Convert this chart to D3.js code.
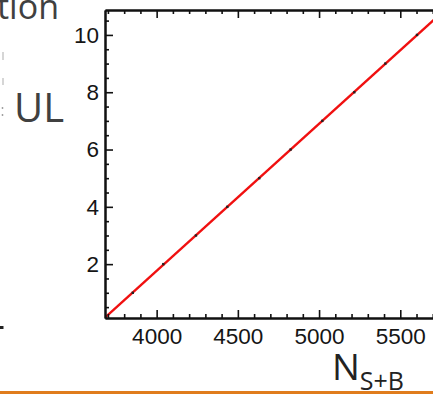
<!DOCTYPE html>
<html>
<head>
<meta charset="utf-8">
<script src="https://cdn.jsdelivr.net/npm/d3@7"></script>
<style>
  html, body { margin: 0; padding: 0; background: #fff; }
  svg { display: block; }
</style>
</head>
<body>
<svg id="chart" width="433" height="394"></svg>
<script>
// Upper limit (UL) versus observed signal+background counts N_S+B
const ulValues  = [1, 2, 3, 4, 5, 6, 7, 8, 9, 10];
const nsbValues = [3853, 4041, 4242, 4435, 4632, 4825, 5020, 5217, 5408, 5603];

const xMajorTicks = [4000, 4500, 5000, 5500];
const yMajorTicks = [2, 4, 6, 8, 10];

const xDomain = [3682, 5800];
const yDomain = [0.12, 10.87];

const W = 433, H = 394;
const plot = { left: 105, top: 10, bottom: 318, right: 449 };

const svg = d3.select("#chart");
svg.append("rect").attr("width", W).attr("height", H).attr("fill", "#fff");

const x = d3.scaleLinear().domain(xDomain).range([plot.left, plot.right]);
const y = d3.scaleLinear().domain(yDomain).range([plot.bottom, plot.top]);

// slide fragments around the figure
svg.append("text")
  .attr("x", 59).attr("y", 19)
  .attr("text-anchor", "end")
  .attr("font-family", "'Open Sans', sans-serif")
  .attr("font-size", 34)
  .attr("fill", "#404040")
  .text("tion");

svg.append("text")
  .attr("x", 14).attr("y", 122)
  .attr("font-family", "'Open Sans', sans-serif")
  .attr("font-size", 40)
  .attr("fill", "#404040")
  .text("UL");

const marks = svg.append("g").attr("stroke", "#bbb").attr("stroke-width", 1.2);
marks.append("line").attr("x1", 3).attr("x2", 3).attr("y1", 52).attr("y2", 60);
marks.append("line").attr("x1", 3).attr("x2", 3).attr("y1", 78).attr("y2", 85);
svg.append("circle").attr("cx", 2.5).attr("cy", 108).attr("r", 0.9).attr("fill", "#999");
svg.append("circle").attr("cx", 2.5).attr("cy", 115).attr("r", 0.9).attr("fill", "#999");
svg.append("rect").attr("x", 0).attr("y", 326).attr("width", 3.5).attr("height", 3).attr("fill", "#222");

// plot clip
svg.append("clipPath").attr("id", "plotClip")
  .append("rect")
  .attr("x", plot.left).attr("y", plot.top)
  .attr("width", plot.right - plot.left).attr("height", plot.bottom - plot.top);

// least-squares straight line through the points
const mx = d3.mean(nsbValues), my = d3.mean(ulValues);
const sxy = d3.sum(nsbValues, (v, i) => (v - mx) * (ulValues[i] - my));
const sxx = d3.sum(nsbValues, v => (v - mx) * (v - mx));
const slope = sxy / sxx;
const intercept = my - slope * mx;
const fitPts = xDomain.map(v => [v, intercept + slope * v]);

svg.append("path")
  .datum(fitPts)
  .attr("clip-path", "url(#plotClip)")
  .attr("fill", "none")
  .attr("stroke", "#f01010")
  .attr("stroke-width", 2.3)
  .attr("d", d3.line().x(d => x(d[0])).y(d => y(d[1])));

svg.append("g")
  .selectAll("rect")
  .data(ulValues)
  .join("rect")
  .attr("x", (d, i) => x(nsbValues[i]) - 1.2)
  .attr("y", d => y(d) - 1.2)
  .attr("width", 2.4).attr("height", 2.4)
  .attr("fill", "#222");

// axes with inward ticks
const fontAxis = "'Liberation Sans', Arial, sans-serif";
const xMinor = d3.range(3700, 5801, 100).filter(v => !xMajorTicks.includes(v));
const yMinor = d3.range(0.5, 10.9, 0.5).filter(v => !yMajorTicks.includes(v));

function styleAxis(g) {
  g.select(".domain").attr("stroke", "#111").attr("stroke-width", 2);
  g.selectAll(".tick line").attr("stroke", "#111").attr("stroke-width", 1.6);
  g.selectAll(".tick text")
    .attr("font-family", fontAxis).attr("font-size", 22.5).attr("fill", "#151515");
}

// bottom
svg.append("g")
  .attr("transform", `translate(0,${plot.bottom})`)
  .call(d3.axisBottom(x).tickValues(xMinor).tickSizeInner(-4).tickSizeOuter(0).tickFormat(""))
  .call(styleAxis);
svg.append("g")
  .attr("transform", `translate(0,${plot.bottom})`)
  .call(d3.axisBottom(x).tickValues(xMajorTicks).tickSizeInner(-8).tickSizeOuter(0)
    .tickPadding(10).tickFormat(d3.format("d")))
  .call(styleAxis);

// top
svg.append("g")
  .attr("transform", `translate(0,${plot.top})`)
  .call(d3.axisTop(x).tickValues(xMinor).tickSizeInner(-4).tickSizeOuter(0).tickFormat(""))
  .call(styleAxis);
svg.append("g")
  .attr("transform", `translate(0,${plot.top})`)
  .call(d3.axisTop(x).tickValues(xMajorTicks).tickSizeInner(-8).tickSizeOuter(0).tickFormat(""))
  .call(styleAxis);

// left
svg.append("g")
  .attr("transform", `translate(${plot.left},0)`)
  .call(d3.axisLeft(y).tickValues(yMinor).tickSizeInner(-4).tickSizeOuter(0).tickFormat(""))
  .call(styleAxis);
svg.append("g")
  .attr("transform", `translate(${plot.left},0)`)
  .call(d3.axisLeft(y).tickValues(yMajorTicks).tickSizeInner(-8).tickSizeOuter(0)
    .tickPadding(6).tickFormat(d3.format("d")))
  .call(styleAxis);

// x-axis title N_S+B
const title = svg.append("text")
  .attr("x", 332).attr("y", 380)
  .attr("font-family", "'Open Sans', sans-serif")
  .attr("fill", "#222");
title.append("tspan").attr("font-size", 37).text("N");
title.append("tspan").attr("font-size", 25).attr("dy", 10).text("S+B");

// orange rule along the bottom
svg.append("rect")
  .attr("x", 0).attr("y", 391).attr("width", W).attr("height", 3)
  .attr("fill", "#e07c1c");
</script>
</body>
</html>
